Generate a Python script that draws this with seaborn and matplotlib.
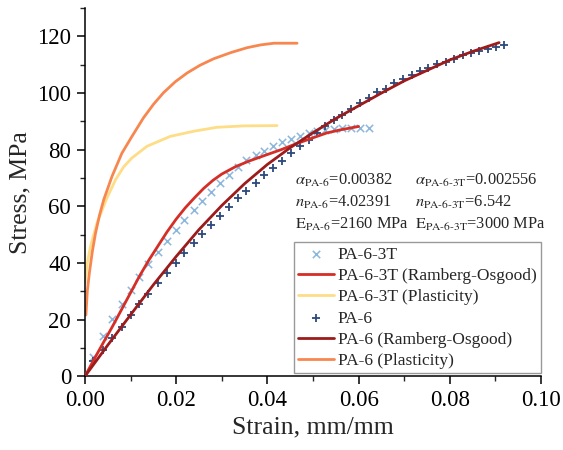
import matplotlib
matplotlib.use("Agg")
import matplotlib.pyplot as plt
import seaborn as sns
import numpy as np
import pandas as pd
from matplotlib.ticker import MultipleLocator, FormatStrFormatter

sns.set_style("ticks")
plt.rcParams["font.family"] = ["Liberation Serif", "DejaVu Serif"]
plt.rcParams["mathtext.fontset"] = "stix"

# --------------------------------------------------
# data
# --------------------------------------------------

# test points (same strain grid for both materials)
test_strain = [0.0017, 0.0039, 0.0060, 0.0081, 0.0100, 0.0119, 0.0139, 0.0159,
               0.0180, 0.0199, 0.0218, 0.0238, 0.0256, 0.0276, 0.0295, 0.0315,
               0.0335, 0.0354, 0.0374, 0.0393, 0.0413, 0.0432, 0.0451, 0.0471,
               0.0491, 0.0509, 0.0527, 0.0546, 0.0564, 0.0584, 0.0603, 0.0623,
               0.0641, 0.0659, 0.0678, 0.0697, 0.0716, 0.0734, 0.0753, 0.0771,
               0.0791, 0.0809, 0.0828, 0.0846, 0.0864, 0.0883, 0.0901, 0.0919]

pa63t_stress = [6.8, 14.2, 20.1, 25.4, 30.4, 35.2, 39.6, 43.8, 47.8, 51.7, 55.2,
                58.8, 61.9, 65.2, 68.4, 71.2, 73.9, 76.2, 78.0, 79.4, 81.3, 82.6,
                83.8, 85.0, 85.9, 86.5, 87.1, 87.3, 87.7, 87.7, 87.7, 87.8]

pa6_stress = [5.3, 9.4, 13.6, 17.5, 21.6, 25.4, 29.0, 33.0, 36.6, 40.1, 43.4,
              47.0, 50.3, 53.5, 56.6, 59.6, 62.9, 65.5, 68.4, 71.2, 73.7, 76.1,
              78.8, 81.2, 83.5, 85.9, 88.2, 90.4, 92.4, 94.5, 96.4, 98.1, 100.3,
              101.6, 103.4, 104.8, 106.5, 107.7, 108.7, 110.1, 111.0, 112.1,
              113.3, 114.2, 115.0, 115.6, 116.4, 116.8]

# Ramberg-Osgood fits
ro63t_strain = [0.0, 0.002, 0.004, 0.006, 0.008, 0.010, 0.012, 0.014, 0.016,
                0.018, 0.020, 0.022, 0.024, 0.026, 0.028, 0.030, 0.033, 0.036,
                0.040, 0.043, 0.046, 0.050, 0.053, 0.056, 0.060]
ro63t_stress = [0.0, 6.0, 11.8, 17.5, 23.5, 29.5, 35.5, 41.0, 46.0, 51.0, 55.5,
                59.5, 63.0, 66.3, 69.1, 71.4, 74.0, 76.0, 78.3, 80.0, 81.9, 84.2,
                85.9, 87.0, 88.2]

ro6_strain = [0.0, 0.005, 0.010, 0.015, 0.020, 0.025, 0.030, 0.035, 0.040,
              0.045, 0.050, 0.055, 0.060, 0.065, 0.070, 0.075, 0.080, 0.085,
              0.0908]
ro6_stress = [0.0, 11.0, 21.7, 32.3, 42.3, 51.8, 60.3, 68.0, 74.8, 80.7, 86.0,
              91.0, 95.5, 100.0, 104.3, 108.0, 111.7, 114.7, 117.8]

# plasticity curves
pl63t_strain = [0.0, 0.0005, 0.0012, 0.0026, 0.0048, 0.0067, 0.0085, 0.0103,
                0.0136, 0.0187, 0.0238, 0.0289, 0.0348, 0.0421]
pl63t_stress = [33.0, 40.0, 45.8, 54.0, 62.9, 69.4, 74.0, 77.1, 81.2, 84.7,
                86.5, 87.9, 88.4, 88.5]

pl6_strain = [0.0002, 0.0005, 0.00095, 0.0016, 0.0023, 0.0032, 0.0041, 0.0059,
              0.0081, 0.0103, 0.0128, 0.0150, 0.0172, 0.0198, 0.0224, 0.0252,
              0.0282, 0.0320, 0.0355, 0.0385, 0.0414, 0.0465]
pl6_stress = [21.6, 30.0, 36.4, 44.0, 50.5, 57.0, 62.3, 70.5, 78.8, 84.7, 91.2,
              96.0, 100.1, 104.0, 107.1, 109.8, 112.1, 114.3, 116.0, 117.0,
              117.6, 117.6]

params_left = [r"$\alpha_{\mathrm{PA\text{-}6}}$=0.00382",
               r"$n_{\mathrm{PA\text{-}6}}$=4.02391",
               r"$\mathrm{E}_{\mathrm{PA\text{-}6}}$=2160 MPa"]
params_right = [r"$\alpha_{\mathrm{PA\text{-}6\text{-}3T}}$=0.002556",
                r"$n_{\mathrm{PA\text{-}6\text{-}3T}}$=6.542",
                r"$\mathrm{E}_{\mathrm{PA\text{-}6\text{-}3T}}$=3000 MPa"]

# --------------------------------------------------
# plot
# --------------------------------------------------

fig = plt.figure(figsize=(5.63, 4.5), dpi=100)
ax = fig.add_axes([0.151, 0.164, 0.810, 0.818])

n3t = len(pa63t_stress)
sns.scatterplot(x=test_strain[:n3t], y=pa63t_stress, marker="x", s=28,
                color="#8db6dc", linewidth=1.1, label="PA-6-3T", ax=ax, zorder=3)
sns.lineplot(x=ro63t_strain, y=ro63t_stress, sort=False, color="#d42e26",
             linewidth=2.0, label="PA-6-3T (Ramberg-Osgood)", ax=ax, zorder=4)
sns.lineplot(x=pl63t_strain, y=pl63t_stress, sort=False, color="#fedd87",
             linewidth=2.0, label="PA-6-3T (Plasticity)", ax=ax, zorder=2)
sns.scatterplot(x=test_strain, y=pa6_stress, marker="+", s=34,
                color="#2d4a7c", linewidth=1.3, label="PA-6", ax=ax, zorder=3)
sns.lineplot(x=ro6_strain, y=ro6_stress, sort=False, color="#9c1c1c",
             linewidth=2.0, label="PA-6 (Ramberg-Osgood)", ax=ax, zorder=4)
sns.lineplot(x=pl6_strain, y=pl6_stress, sort=False, color="#f7874f",
             linewidth=2.0, label="PA-6 (Plasticity)", ax=ax, zorder=2)

ax.set_xlim(0, 0.10)
ax.set_ylim(0, 130)
ax.xaxis.set_major_locator(MultipleLocator(0.02))
ax.xaxis.set_minor_locator(MultipleLocator(0.01))
ax.xaxis.set_major_formatter(FormatStrFormatter("%.2f"))
ax.yaxis.set_major_locator(MultipleLocator(20))
ax.yaxis.set_minor_locator(MultipleLocator(10))
ax.tick_params(which="major", direction="out", length=6, width=1.1,
               labelsize=16.5, colors="black", pad=4)
ax.tick_params(which="minor", direction="out", length=3.5, width=1.0)
for side in ["top", "right"]:
    ax.spines[side].set_visible(False)
for side in ["left", "bottom"]:
    ax.spines[side].set_linewidth(1.1)
    ax.spines[side].set_color("black")

ax.set_xlabel("Strain, mm/mm", fontsize=18.5)
ax.set_ylabel("Stress, MPa", fontsize=18.5)

for i, (a, b) in enumerate(zip(params_left, params_right)):
    ax.text(0.0460, 67.5 - i * 7.8, a, fontsize=11.8, ha="left", va="baseline")
    ax.text(0.0724, 67.5 - i * 7.8, b, fontsize=11.8, ha="left", va="baseline")

leg = ax.legend(loc="lower right", bbox_to_anchor=(1.0, 0.008), fontsize=12.5,
                frameon=True, fancybox=False, edgecolor="#999999", framealpha=1,
                borderpad=0.25, labelspacing=0.29, handlelength=2.1,
                handletextpad=0.2, borderaxespad=0)
leg.get_frame().set_linewidth(1.0)

plt.savefig("out.png", dpi=100)
